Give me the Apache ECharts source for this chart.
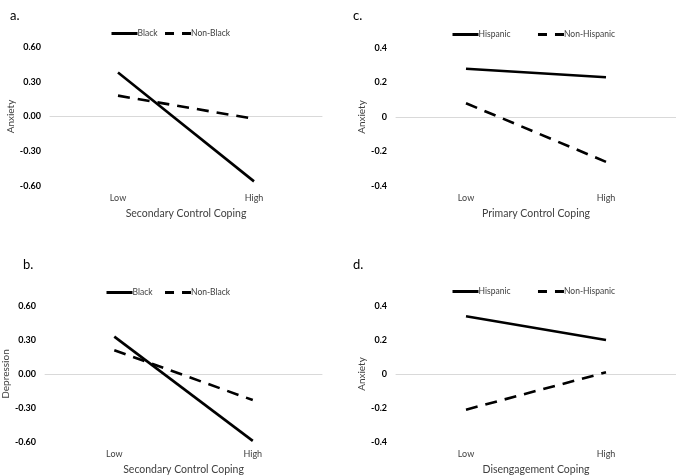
<!DOCTYPE html>
<html><head><meta charset="utf-8">
<script src="https://cdn.jsdelivr.net/npm/echarts@6/dist/echarts.min.js"></script>
<style>html,body{margin:0;padding:0;background:#fff}#c{width:676px;height:476px}</style>
</head><body><div id="c"></div>
<script>
const categories = ['Low', 'High'];
// Panel a: Anxiety by Secondary Control Coping
const aBlack = [0.38, -0.56];
const aNonBlack = [0.18, -0.02];
// Panel b: Depression by Secondary Control Coping
const bBlack = [0.33, -0.59];
const bNonBlack = [0.21, -0.23];
// Panel c: Anxiety by Primary Control Coping
const cHispanic = [0.28, 0.23];
const cNonHispanic = [0.08, -0.26];
// Panel d: Anxiety by Disengagement Coping
const dHispanic = [0.34, 0.20];
const dNonHispanic = [-0.21, 0.01];

const FONT = 'Lato';
const grids = [
  {left: 50, width: 272, top: 47, height: 139},
  {left: 42, width: 280, top: 306, height: 136},
  {left: 396, width: 280, top: 48, height: 138},
  {left: 396, width: 280, top: 306, height: 136}
];
const yNames = ['Anxiety', 'Depression', 'Anxiety', 'Anxiety'];
const xNames = ['Secondary Control Coping', 'Secondary Control Coping', 'Primary Control Coping', 'Disengagement Coping'];
const yRange = [[-0.6, 0.6, 0.3, 2], [-0.6, 0.6, 0.3, 2], [-0.4, 0.4, 0.2, 1], [-0.4, 0.4, 0.2, 1]];
const yNameGap = [29, 30, 27, 27];
const seriesData = [[aBlack, aNonBlack], [bBlack, bNonBlack], [cHispanic, cNonHispanic], [dHispanic, dNonHispanic]];
const seriesNames = [['Black', 'Non-Black'], ['Black', 'Non-Black'], ['Hispanic', 'Non-Hispanic'], ['Hispanic', 'Non-Hispanic']];
const letters = ['a.', 'b.', 'c.', 'd.'];
const letterPos = [[5, 4], [18, 253], [348, 4], [348, 253]];
const legendPos = [[105, 24], [100, 283], [446, 25], [446, 282]];
const legendGap = [6, 11, 26, 26];

const xAxis = [], yAxis = [], series = [], legend = [], title = [];
for (let i = 0; i < 4; i++) {
  xAxis.push({
    gridIndex: i, type: 'category', data: categories,
    axisLine: {lineStyle: {color: '#d9d9d9', width: 1}},
    axisTick: {show: false},
    axisLabel: {color: '#404040', fontFamily: FONT, fontSize: 9, margin: 8},
    name: xNames[i], nameLocation: 'middle', nameGap: 22,
    nameTextStyle: {color: '#404040', fontFamily: FONT, fontSize: 10.5}
  });
  const r = yRange[i];
  yAxis.push({
    gridIndex: i, type: 'value', min: r[0], max: r[1], interval: r[2],
    splitLine: {show: false}, axisLine: {show: false}, axisTick: {show: false},
    axisLabel: {color: '#000', fontFamily: FONT, fontSize: 9, fontWeight: 'bold', margin: 9,
      formatter: v => r[3] === 2 ? v.toFixed(2) : (Math.abs(v) < 1e-9 ? '0' : String(+v.toFixed(1)))},
    name: yNames[i], nameLocation: 'middle', nameGap: yNameGap[i], nameRotate: 90,
    nameTextStyle: {color: '#404040', fontFamily: FONT, fontSize: 10}
  });
  for (let s = 0; s < 2; s++) {
    series.push({
      name: seriesNames[i][s], type: 'line', xAxisIndex: i, yAxisIndex: i,
      data: seriesData[i][s], symbol: 'none', silent: true,
      lineStyle: {color: '#000', width: 2.6, type: s === 0 ? 'solid' : [12, 8]},
      itemStyle: {color: '#000'}
    });
  }
  legend.push({
    left: legendPos[i][0], top: legendPos[i][1],
    data: [
      {name: seriesNames[i][0], lineStyle: {type: 'solid', width: 3}},
      {name: seriesNames[i][1], lineStyle: {type: [9, 8], width: 3}}
    ],
    itemWidth: 26, itemHeight: 8, itemGap: legendGap[i],
    itemStyle: {opacity: 0},
    textStyle: {color: '#404040', fontFamily: FONT, fontSize: 8.5, padding: [0, 0, 0, -5]},
    selectedMode: false
  });
  title.push({
    text: letters[i], left: letterPos[i][0], top: letterPos[i][1],
    textStyle: {color: '#000', fontFamily: FONT, fontSize: 13, fontWeight: 'normal'}
  });
}
const chart = echarts.init(document.getElementById('c'));
chart.setOption({
  animation: false, backgroundColor: '#fff',
  grid: grids, xAxis, yAxis, series, legend, title
});
</script></body></html>
